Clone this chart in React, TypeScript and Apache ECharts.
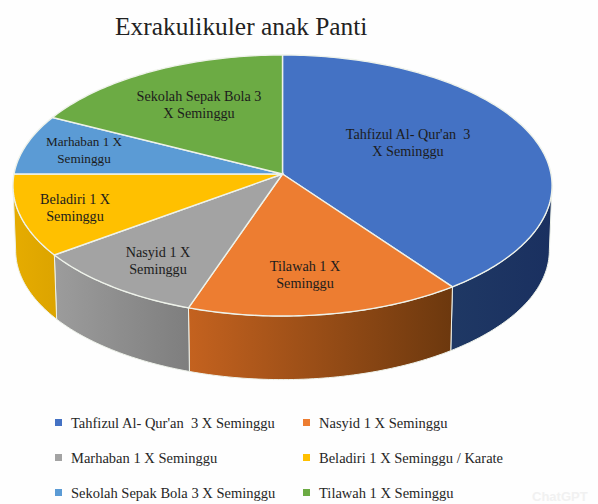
import React, { useEffect, useRef } from "react";
import * as echarts from "echarts";

const titleText = "Exrakulikuler anak Panti";
const sliceLabels = [
  "Tahfizul Al- Qur'an  3\nX Seminggu",
  "Tilawah 1 X\nSeminggu",
  "Nasyid 1 X\nSeminggu",
  "Beladiri 1 X\nSeminggu",
  "Marhaban 1 X\nSeminggu",
  "Sekolah Sepak Bola 3\nX Seminggu",
];
const labelSizes = [14.2, 14.2, 14.2, 14.2, 13.2, 14.2];
const sliceValues = [40, 15.2, 9.7, 10.1, 7.5, 17.5];
const sliceColors = ["#4472C4", "#ED7D31", "#A3A3A3", "#FFC000", "#5B9BD5", "#6CAB44"];
const wallStops = [
  ["#1F3864", "#1A3060"],
  ["#C4621F", "#6C380E"],
  ["#9C9C9C", "#7E7E7E"],
  ["#E6AC00", "#DCA400"],
  ["#4A7FB0", "#4A7FB0"],
  ["#5A8C38", "#5A8C38"],
];
const labelAnchors = [
  [408, 142],
  [305, 274],
  [158, 260],
  [75, 207],
  [84, 150],
  [199, 104],
];
const legendLeft = ["Tahfizul Al- Qur'an  3 X Seminggu", "Marhaban 1 X Seminggu", "Sekolah Sepak Bola 3 X Seminggu"];
const legendRight = ["Nasyid 1 X Seminggu", "Beladiri 1 X Seminggu / Karate", "Tilawah 1 X Seminggu"];
const legendColors = ["#4472C4", "#ED7D31", "#A3A3A3", "#FFC000", "#5B9BD5", "#6CAB44"];
const legendOrder = [legendLeft[0], legendRight[0], legendLeft[1], legendRight[1], legendLeft[2], legendRight[2]];

const CX = 282.5, CY = 174, A = 268.5, B = 129.5, K = 0.0882, DROP = 65, SHRINK = 0.99;
const WALL_FROM = 95, WALL_TO = 265;
const SERIF = "'Liberation Serif', 'Times New Roman', serif";
const RIM = "#EEF2EA";

const project = (deg: number): [number, number] => {
  const r = (deg * Math.PI) / 180;
  const u = Math.sin(r), v = -Math.cos(r), w = 1 - K * v;
  return [CX + (A * u) / w, CY + (B * v) / w];
};
const lower = (p: [number, number]): [number, number] => [
  CX + (p[0] - CX) * SHRINK,
  CY + (p[1] - CY) * SHRINK + DROP,
];
const total = sliceValues.reduce((a, b) => a + b, 0);
const range = (i: number): [number, number] => {
  const before = sliceValues.slice(0, i).reduce((a, b) => a + b, 0);
  return [(before / total) * 360, ((before + sliceValues[i]) / total) * 360];
};
const arc = (from: number, to: number) => {
  const pts: [number, number][] = [];
  const n = Math.max(2, Math.ceil(to - from));
  for (let j = 0; j <= n; j++) pts.push(project(from + ((to - from) * j) / n));
  return pts;
};

const renderWall = (params: any) => {
  const i = params.dataIndex;
  const [s, e] = range(i);
  const from = Math.max(s, WALL_FROM), to = Math.min(e, WALL_TO);
  if (to <= from) return null;
  const top = arc(from, to);
  const points = [...top, ...top.map(lower).reverse()];
  return {
    type: "polygon",
    shape: { points },
    style: {
      fill: new echarts.graphic.LinearGradient(0, 0, 1, 0, [
        { offset: 0, color: wallStops[i][0] },
        { offset: 1, color: wallStops[i][1] },
      ]),
      stroke: RIM,
      lineWidth: 1,
    },
  };
};

const renderTop = (params: any) => {
  const i = params.dataIndex;
  const [s, e] = range(i);
  return {
    type: "group",
    children: [
      {
        type: "polygon",
        shape: { points: [[CX, CY], ...arc(s, e)] },
        style: { fill: sliceColors[i], stroke: RIM, lineWidth: 1.4 },
      },
      {
        type: "text",
        z2: 10,
        x: labelAnchors[i][0],
        y: labelAnchors[i][1],
        style: {
          text: sliceLabels[i],
          fill: "#1c1c1c",
          font: `${labelSizes[i]}px ${SERIF}`,
          lineHeight: 17,
          align: "center",
          verticalAlign: "middle",
        },
      },
    ],
  };
};

const legendBase = {
  orient: "vertical" as const,
  top: 415,
  icon: "rect",
  itemWidth: 7,
  itemHeight: 7,
  itemGap: 20,
  padding: 0,
  selectedMode: false,
  textStyle: { fontFamily: SERIF, fontSize: 14.5, color: "#262626", padding: [0, 0, 0, 4], lineHeight: 15 },
};

export default function App() {
  const ref = useRef<HTMLDivElement>(null);
  useEffect(() => {
    document.body.style.margin = "0";
    const chart = echarts.init(ref.current!, undefined, { renderer: "svg" });
    chart.setOption({
      animation: false,
      backgroundColor: "#FEFEFE",
      title: {
        text: titleText,
        left: 115,
        top: 13,
        padding: 0,
        textStyle: { fontFamily: SERIF, fontSize: 25.4, fontWeight: "normal", color: "#222222" },
      },
      legend: [
        { ...legendBase, left: 55, data: legendLeft },
        { ...legendBase, left: 303, data: legendRight },
      ],
      graphic: [
        {
          type: "text",
          x: 532,
          y: 490,
          silent: true,
          style: { text: "ChatGPT", fill: "#F1F1F1", font: "bold 13px 'Liberation Sans', sans-serif" },
        },
      ],
      series: [
        {
          type: "pie",
          radius: [0, 0],
          center: [-10, -10],
          silent: true,
          label: { show: false },
          labelLine: { show: false },
          data: legendOrder.map((name, i) => ({ name, value: 1, itemStyle: { color: legendColors[i] } })),
        },
        { type: "custom", coordinateSystem: "none", silent: true, z: 2, data: sliceValues, renderItem: renderWall },
        { type: "custom", coordinateSystem: "none", silent: true, z: 3, data: sliceValues, renderItem: renderTop },
      ],
    });
    return () => chart.dispose();
  }, []);
  return <div ref={ref} style={{ position: "absolute", left: 0, top: 0, width: 598, height: 504 }} />;
}
